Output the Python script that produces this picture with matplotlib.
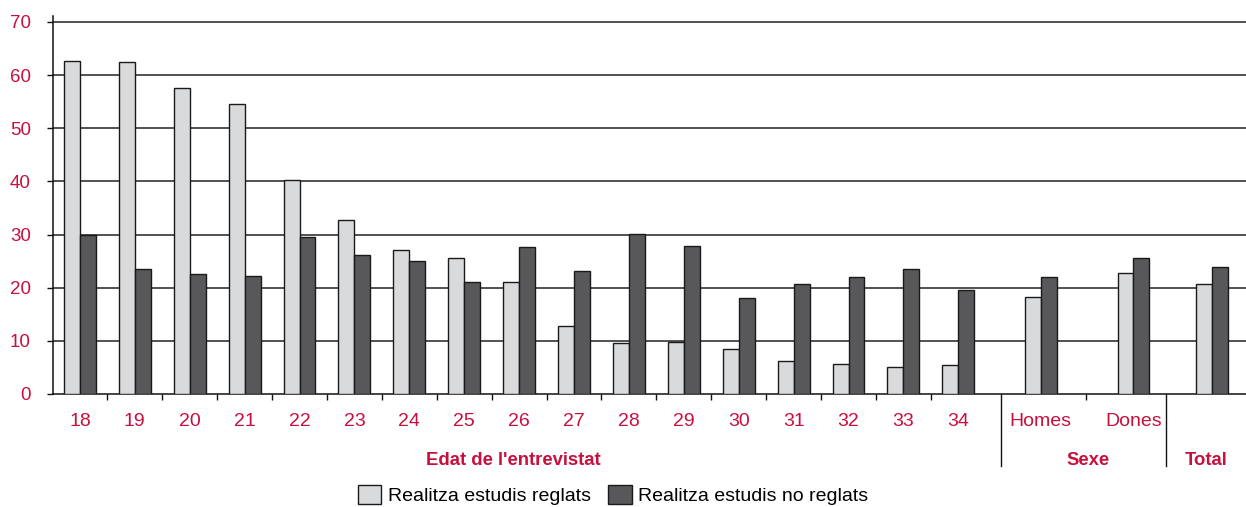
import numpy as np
import matplotlib
matplotlib.use('Agg')
import matplotlib.pyplot as plt
from matplotlib.patches import Patch

# dades llegides del grafic (%)
edats = [str(e) for e in range(18, 35)]
grups_sexe = ['Homes', 'Dones']
reglats_edat = [62.7, 62.5, 57.6, 54.6, 40.3, 32.7, 27.0, 25.5, 21.0, 12.8,
                9.5, 9.8, 8.5, 6.3, 5.7, 5.1, 5.4]
no_reglats_edat = [29.9, 23.6, 22.5, 22.2, 29.5, 26.2, 25.0, 21.0, 27.6, 23.1,
                   30.1, 27.9, 18.1, 20.7, 22.0, 23.5, 19.5]
reglats_sexe = [18.3, 22.8]
no_reglats_sexe = [22.1, 25.5]
reglats_total = [20.6]
no_reglats_total = [23.8]

etiquetes = edats + grups_sexe + ['']
reglats = reglats_edat + reglats_sexe + reglats_total
no_reglats = no_reglats_edat + no_reglats_sexe + no_reglats_total

vermell = '#C8103E'
clar = '#D9DADC'
fosc = '#58585A'

plt.rcParams['font.family'] = ['Liberation Sans', 'DejaVu Sans']

# posicions de les categories (edats seguides, despres sexe i total)
x = np.r_[np.arange(len(edats)), [17.5, 19.19, 20.62]]
w = 0.29

fig = plt.figure(figsize=(12.46, 5.07), dpi=100)
ax = fig.add_axes([53/1246, 113/507, 1 - 53/1246, 378/507])

ax.bar(x - w/2, reglats, w, color=clar, edgecolor='#1a1a1a', linewidth=1, zorder=3)
ax.bar(x + w/2, no_reglats, w, color=fosc, edgecolor='#1a1a1a', linewidth=1, zorder=3)

ax.set_ylim(0, 71.1)
ax.set_xlim(-0.49, 21.24)
ax.set_yticks(range(0, 80, 10))
for v in range(10, 80, 10):
    ax.axhline(v, color='#333333', lw=1.2, zorder=1)

for s in ['top', 'right']:
    ax.spines[s].set_visible(False)
ax.spines['left'].set_color('#111111')
ax.spines['bottom'].set_color('#111111')
ax.spines['left'].set_linewidth(1.1)
ax.spines['bottom'].set_linewidth(1.1)

ax.tick_params(axis='y', length=4, width=1, colors='#111111', labelcolor=vermell,
               labelsize=13.5, pad=12)
ax.set_xticks(x)
ax.set_xticklabels(etiquetes)
ax.tick_params(axis='x', length=0, labelcolor=vermell, labelsize=14, pad=14)
ax.set_xticks(list(np.arange(0.5, 16, 1)) + [18.32], minor=True)
ax.tick_params(axis='x', which='minor', length=4, width=1, colors='#111111')

trans = ax.get_xaxis_transform()
for xd in [16.78, 19.78]:
    ax.plot([xd, xd], [0, -0.19], transform=trans, color='#111111', lw=1, clip_on=False)

ax.text(7.9, -0.175, "Edat de l'entrevistat", transform=trans, ha='center', va='center',
        color=vermell, fontsize=13.3, fontweight='bold')
ax.text(18.36, -0.175, 'Sexe', transform=trans, ha='center', va='center',
        color=vermell, fontsize=13.3, fontweight='bold')
ax.text(20.51, -0.175, 'Total', transform=trans, ha='center', va='center',
        color=vermell, fontsize=13.3, fontweight='bold')

handles = [Patch(facecolor=clar, edgecolor='#1a1a1a'),
           Patch(facecolor=fosc, edgecolor='#1a1a1a')]
fig.legend(handles, ['Realitza estudis reglats', 'Realitza estudis no reglats'],
           loc='center', bbox_to_anchor=(0.492, 0.024), ncol=2, frameon=False,
           fontsize=14, handlelength=1.2, handleheight=1.1, handletextpad=0.35,
           columnspacing=0.9)

plt.savefig('out.png', dpi=100)
